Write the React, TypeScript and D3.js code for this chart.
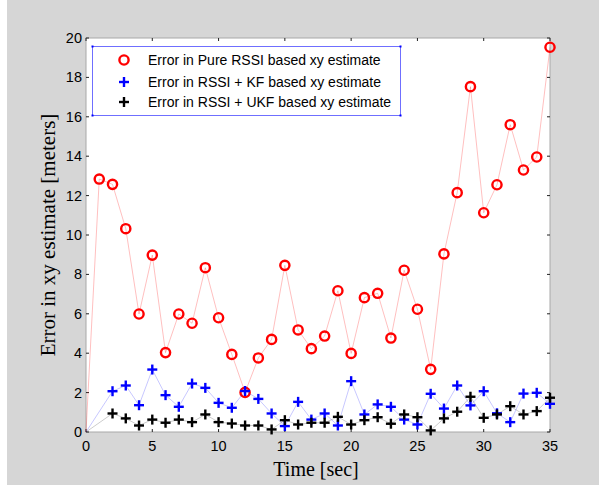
import React from "react";
import * as d3 from "d3";

const redTime = d3.range(1, 36);
const redValues = [12.84, 12.57, 10.32, 5.99, 8.98, 4.03, 5.99, 5.52, 8.34, 5.8, 3.94, 2.01, 3.76, 4.7, 8.46, 5.18, 4.23, 4.87, 7.17, 3.99, 6.82, 7.04, 4.77, 8.21, 6.23, 3.18, 9.04, 12.15, 17.53, 11.13, 12.55, 15.6, 13.3, 13.96, 19.53];
const filtTime = d3.range(2, 36);
const kfValues = [2.07, 2.36, 1.36, 3.17, 1.87, 1.28, 2.46, 2.24, 1.48, 1.23, 2.08, 1.68, 0.94, 0.3, 1.53, 0.63, 0.94, 0.33, 2.58, 0.89, 1.4, 1.28, 0.63, 0.38, 1.94, 1.19, 2.36, 1.35, 2.07, 0.95, 0.5, 1.95, 1.99, 1.43];
const ukfValues = [0.94, 0.69, 0.33, 0.63, 0.47, 0.63, 0.5, 0.89, 0.5, 0.43, 0.33, 0.33, 0.13, 0.6, 0.38, 0.47, 0.47, 0.77, 0.38, 0.6, 0.75, 0.42, 0.89, 0.75, 0.08, 0.69, 1.03, 1.79, 0.72, 0.89, 1.31, 0.89, 1.06, 1.74];
const xTicks = [0, 5, 10, 15, 20, 25, 30, 35];
const yTicks = [0, 2, 4, 6, 8, 10, 12, 14, 16, 18, 20];
const legendLabels = [
  "Error in Pure RSSI based xy estimate",
  "Error in RSSI + KF based xy estimate",
  "Error in RSSI + UKF based xy estimate",
];

const W = 599, H = 487;
const L = 86, R = 550, T = 38, B = 432;

export default function App() {
  const x = d3.scaleLinear().domain([0, 35]).range([L, R]);
  const y = d3.scaleLinear().domain([0, 20]).range([B, T]);
  const line = d3.line<[number, number]>().x(d => x(d[0])).y(d => y(d[1]));

  const redPts: [number, number][] = [[0, 0], ...redTime.map((t, i) => [t, redValues[i]] as [number, number])];
  const kfPts: [number, number][] = [[0, 0], ...filtTime.map((t, i) => [t, kfValues[i]] as [number, number])];
  const ukfPts: [number, number][] = [[0, 0], ...filtTime.map((t, i) => [t, ukfValues[i]] as [number, number])];

  const plus = (cx: number, cy: number, color: string, key: string | number) => (
    <g key={key} stroke={color} strokeWidth={2.4}>
      <line x1={cx - 5} x2={cx + 5} y1={cy} y2={cy} />
      <line x1={cx} x2={cx} y1={cy - 5} y2={cy + 5} />
    </g>
  );

  const font = "Arial, 'Liberation Sans', sans-serif";
  const serif = "'Times New Roman', 'Liberation Serif', serif";

  const legY = [60, 82, 102];

  return (
    <svg width={W} height={H} style={{ position: "absolute", left: 0, top: 0, display: "block" }}>
      <rect x={0} y={0} width={W} height={H} fill="#ffffff" />
      <rect x={7} y={0} width={W - 7} height={485} fill="#d6d6d6" />
      <rect x={L} y={T} width={R - L} height={B - T} fill="#ffffff" stroke="#a8a8a8" strokeWidth={1} />
      {xTicks.map(t => (
        <g key={"xt" + t} stroke="#222" strokeWidth={1}>
          <line x1={x(t)} x2={x(t)} y1={B} y2={B - 3} />
          <line x1={x(t)} x2={x(t)} y1={T} y2={T + 3} />
        </g>
      ))}
      {yTicks.map(t => (
        <g key={"yt" + t} stroke="#222" strokeWidth={1}>
          <line x1={L} x2={L + 3} y1={y(t)} y2={y(t)} />
          <line x1={R} x2={R - 3} y1={y(t)} y2={y(t)} />
        </g>
      ))}
      {xTicks.map(t => (
        <text key={"xl" + t} x={x(t)} y={451} textAnchor="middle" fontFamily={font} fontSize={14.5} fill="#000">{t}</text>
      ))}
      {yTicks.map(t => (
        <text key={"yl" + t} x={L - 4} y={y(t) + 5} textAnchor="end" fontFamily={font} fontSize={14.5} fill="#000">{t}</text>
      ))}
      <path d={line(redPts) || ""} fill="none" stroke="#ff0000" strokeOpacity={0.25} strokeWidth={1} />
      {redTime.map((t, i) => (
        <circle key={"r" + t} cx={x(t)} cy={y(redValues[i])} r={4.6} fill="none" stroke="#ff0000" strokeWidth={2.4} />
      ))}
      <path d={line(kfPts) || ""} fill="none" stroke="#0000ff" strokeOpacity={0.22} strokeWidth={1} />
      {filtTime.map((t, i) => plus(x(t), y(kfValues[i]), "#0000ff", "b" + t))}
      <path d={line(ukfPts) || ""} fill="none" stroke="#000000" strokeOpacity={0.2} strokeWidth={1} />
      {filtTime.map((t, i) => plus(x(t), y(ukfValues[i]), "#000000", "k" + t))}
      <rect x={92.5} y={46.5} width={308} height={69} fill="#ffffff" stroke="#6f6fff" strokeWidth={1} />
      {[[92.5, 46.5], [400.5, 46.5], [92.5, 115.5], [400.5, 115.5]].map(([a, b], i) => (
        <rect key={"h" + i} x={a - 1} y={b - 1} width={2} height={2} fill="#0000ff" />
      ))}
      <circle cx={124} cy={legY[0]} r={4.6} fill="none" stroke="#ff0000" strokeWidth={2.4} />
      {plus(124, legY[1], "#0000ff", "lb")}
      {plus(124, legY[2], "#000000", "lk")}
      {legendLabels.map((s, i) => (
        <text key={"lt" + i} x={148} y={legY[i] + 5} fontFamily={font} fontSize={14} fill="#000">{s}</text>
      ))}
      <text x={316} y={476} textAnchor="middle" fontFamily={serif} fontSize={20} fill="#000">Time [sec]</text>
      <text transform={`translate(55,${(T + B) / 2}) rotate(-90)`} textAnchor="middle" fontFamily={serif} fontSize={21} fill="#000">Error in xy estimate [meters]</text>
    </svg>
  );
}
